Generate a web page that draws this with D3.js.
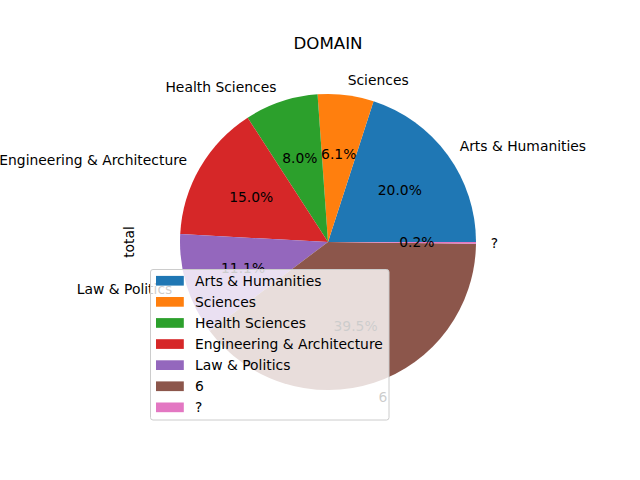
<!DOCTYPE html>
<html>
<head>
<meta charset="utf-8">
<script src="https://cdn.jsdelivr.net/npm/d3@7"></script>
<style>
  body { margin: 0; background: #fff; }
  text { font-family: "DejaVu Sans", sans-serif; }
</style>
</head>
<body>
<svg id="chart" width="640" height="480"></svg>
<script>
// data (percent of total)
var labels = ["Arts & Humanities", "Sciences", "Health Sciences", "Engineering & Architecture", "Law & Politics", "6", "?"];
var values = [20.0, 6.1, 8.0, 15.0, 11.1, 39.5, 0.2];
var colors = ["#1f77b4", "#ff7f0e", "#2ca02c", "#d62728", "#9467bd", "#8c564b", "#e377c2"];

var vis = d3.select("#chart");
var cx = 328, cy = 242, r = 148;
var fs = "13.89px";

var total = d3.sum(values);
var color = d3.scaleOrdinal().domain(labels).range(colors);

// matplotlib style: start at 3 o'clock and go counter clockwise
var pie = d3.pie().sort(null).value(function(d){return d.v;})
    .startAngle(Math.PI / 2).endAngle(Math.PI / 2 - 2 * Math.PI);
var data = labels.map(function(l, i){return {label: l, v: values[i]};});
var arcs = pie(data);

var arc = d3.arc().innerRadius(0).outerRadius(r);
var g = vis.append("g").attr("transform", "translate(" + cx + "," + cy + ")");

g.selectAll("path")
    .data(arcs)
    .enter()
    .append("path")
    .attr("d", arc)
    .attr("fill", function(d){return color(d.data.label);});

// point at a fraction of radius on the middle of the wedge
var mid = function(d, k){
  var a = (d.startAngle + d.endAngle) / 2;
  return [k * r * Math.sin(a), -k * r * Math.cos(a)];
};

g.selectAll("text.lbl")
    .data(arcs)
    .enter()
    .append("text")
    .attr("class", "lbl")
    .attr("x", function(d){return mid(d, 1.1)[0];})
    .attr("y", function(d){return mid(d, 1.1)[1];})
    .attr("dy", "0.35em")
    .attr("text-anchor", function(d){return mid(d, 1.1)[0] > 0 ? "start" : "end";})
    .style("font-size", fs)
    .text(function(d){return d.data.label;});

g.selectAll("text.pct")
    .data(arcs)
    .enter()
    .append("text")
    .attr("class", "pct")
    .attr("x", function(d){return mid(d, 0.6)[0];})
    .attr("y", function(d){return mid(d, 0.6)[1];})
    .attr("dy", "0.35em")
    .attr("text-anchor", "middle")
    .style("font-size", fs)
    .text(function(d){return (d.data.v / total * 100).toFixed(1) + "%";});

// title and y label
vis.append("text")
    .attr("x", cx).attr("y", 49)
    .attr("text-anchor", "middle")
    .style("font-size", "16.67px")
    .text("DOMAIN");

vis.append("text")
    .attr("transform", "translate(134," + cy + ") rotate(-90)")
    .attr("text-anchor", "middle")
    .style("font-size", fs)
    .text("total");

// legend on top of the pie
var lx = 150.5, ly = 269.5, lw = 238.5, lh = 150.5, rowH = 21.1;
var legend = vis.append("g");
legend.append("rect")
    .attr("x", lx).attr("y", ly)
    .attr("width", lw).attr("height", lh)
    .attr("rx", 2.5).attr("ry", 2.5)
    .attr("fill", "#fff").attr("fill-opacity", 0.8)
    .attr("stroke", "#cccccc").attr("stroke-width", 1);

var rows = legend.selectAll("g.row")
    .data(labels)
    .enter()
    .append("g")
    .attr("class", "row")
    .attr("transform", function(d, i){return "translate(0," + (ly + 11.3 + i * rowH) + ")";});

rows.append("rect")
    .attr("x", 156).attr("y", -4.9)
    .attr("width", 27.8).attr("height", 9.7)
    .attr("fill", function(d){return color(d);});

rows.append("text")
    .attr("x", 195)
    .attr("dy", "0.35em")
    .style("font-size", fs)
    .text(function(d){return d;});
</script>
</body>
</html>
